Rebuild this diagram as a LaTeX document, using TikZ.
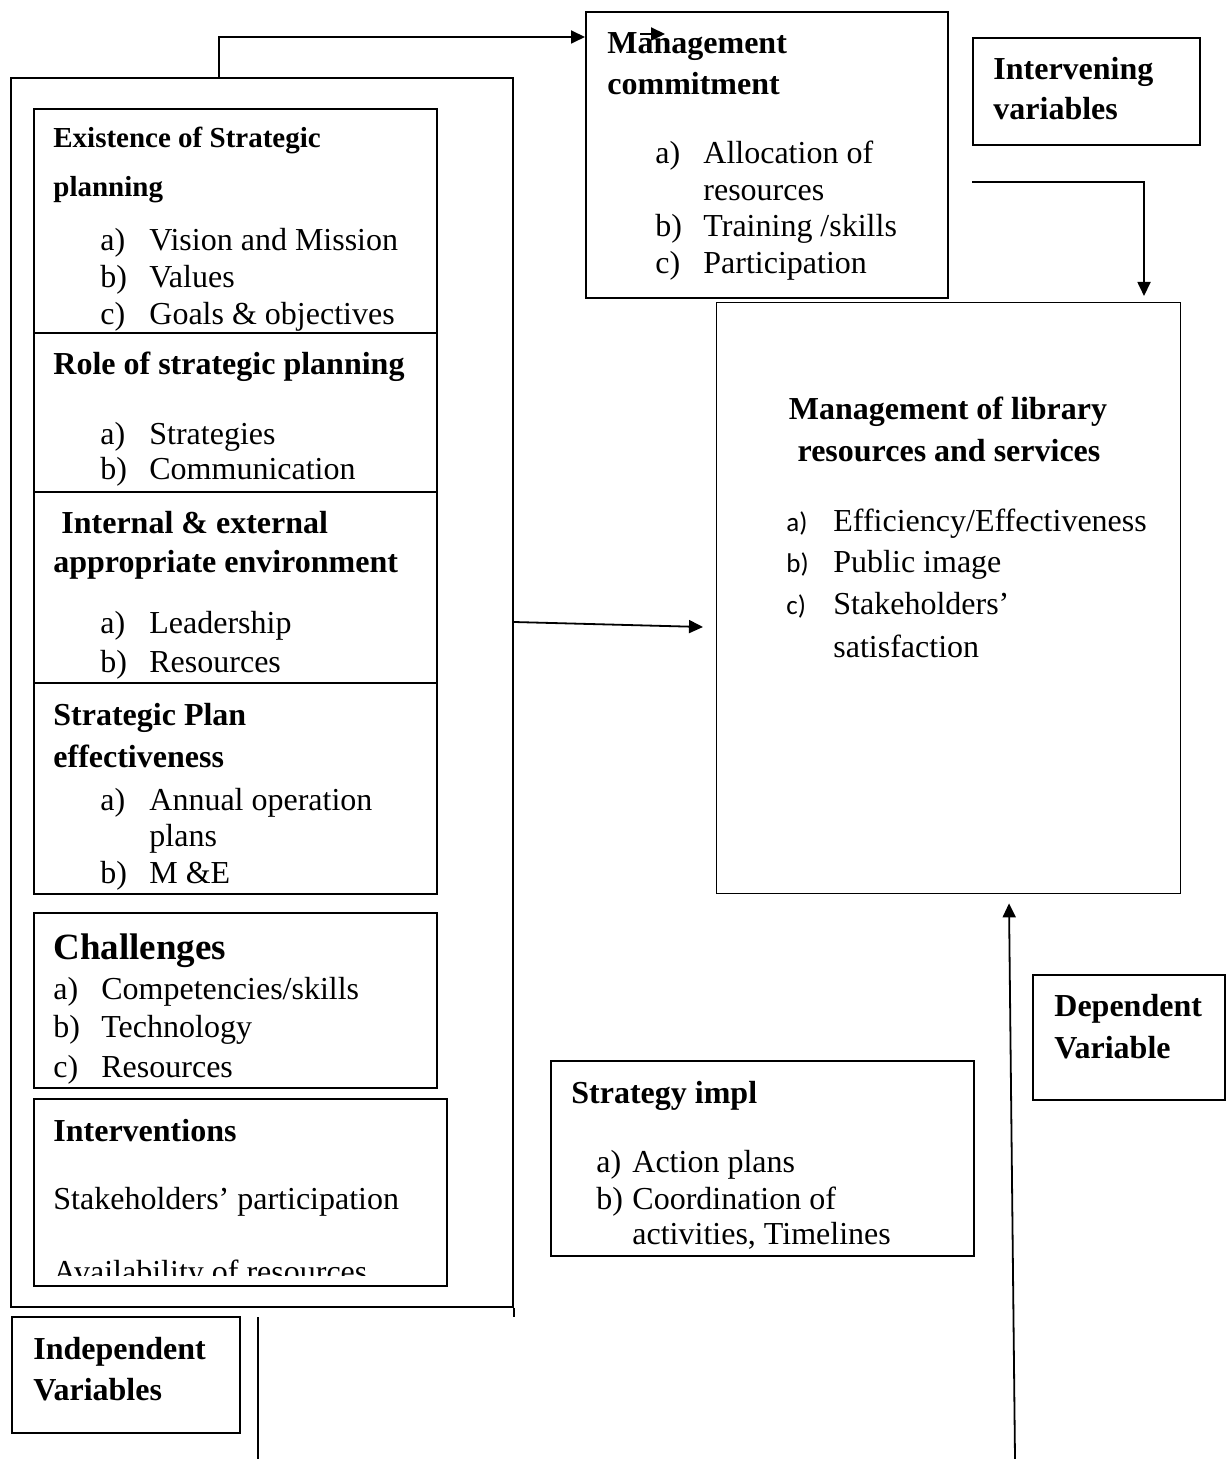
\documentclass[tikz,border=0pt]{standalone}
\usepackage{fontspec}
\setmainfont{Liberation Serif}
\newfontfamily\calfont{Carlito}
\usetikzlibrary{arrows.meta}

\newcommand\bodysize{\fontsize{16pt}{18pt}\selectfont}
\newcommand\smallhead{\fontsize{14.5pt}{17pt}\selectfont}
\newcommand\bighead{\fontsize{18.5pt}{21pt}\selectfont}

\tikzset{
  box/.style={draw, line width=0.9pt, inner sep=0pt, anchor=north west},
  txt/.style={inner sep=0pt, anchor=base west, font=\bodysize, yshift=-1pt},
  hd/.style={txt, font=\bodysize\bfseries},
  lbl/.style={inner sep=0pt, anchor=base west, yshift=-1pt, font=\calfont\fontsize{13.5pt}{16pt}\selectfont},
  arr/.style={line width=0.9pt, -{Triangle[length=7pt,width=6.5pt]}},
  plain/.style={line width=0.9pt},
}

\begin{document}
\begin{tikzpicture}[x=0.5pt, y=-0.5pt]
\useasboundingbox (0,0) rectangle (1229,1459);

% ---- boxes ----
\node[box, minimum width=251pt, minimum height=614.5pt] (outer) at (10,77) {};
\node[box, minimum width=201.5pt, minimum height=392.5pt] (sp) at (33,108) {};
\node[box, minimum width=201.5pt, minimum height=87.5pt] (ch) at (33,912) {};
\node[box, minimum width=206.5pt, minimum height=93.5pt] (inv) at (33,1098) {};
\node[box, minimum width=114pt, minimum height=58pt] (ivl) at (11,1316) {};
\node[box, minimum width=181pt, minimum height=143pt] (mc) at (585,11) {};
\node[box, minimum width=113.5pt, minimum height=53.5pt] (itv) at (972,37) {};
\node[box, line width=0.7pt, minimum width=232pt, minimum height=295.5pt] (dv) at (716,302) {};
\node[box, minimum width=96pt, minimum height=62.5pt] (dvl) at (1032,974) {};
\node[box, minimum width=211.5pt, minimum height=97.5pt] (si) at (550,1060) {};

% section dividers of the strategic planning column
\draw[line width=0.8pt] (33,333) -- (436,333);
\draw[line width=0.8pt] (33,492) -- (436,492);
\draw[line width=0.8pt] (33,683) -- (436,683);

% right side of the outer frame runs a little past its base
\draw[plain] (outer.south east) -- ++(0,9);

% ---- connectors ----
\draw[arr] ([xshift=104.5pt]outer.north west) |- ([yshift=-13pt]mc.north west);
\coordinate (s1) at (640,34);
\coordinate (s2) at (665,34);
\draw[arr] (s1) -- (s2);
\coordinate (c2) at (972,182);
\draw[arr, shorten >=3pt] (c2) -| ([xshift=214pt]dv.north west);
\draw[arr] ([yshift=-272.5pt]outer.north east) -- ([xshift=-6.5pt,yshift=-162.5pt]dv.north west);
\coordinate (c3) at (1015,1459);
\draw[arr] (c3) -- ([xshift=146.5pt,yshift=-4.5pt]dv.south west);
\coordinate (c4) at (258,1317);
\coordinate (c5) at (258,1459);
\draw[plain] (c4) -- (c5);

% ---- management commitment ----
\node[hd] (mc1) at (607,52) {Management};
\node[hd] (mc2) at (607,93) {commitment};
\node[txt] (mc3a) at (655,162) {a)};
\node[txt] (mc3) at (703,162) {Allocation of};
\node[txt] (mc4) at (703,199) {resources};
\node[txt] (mc5a) at (655,235) {b)};
\node[txt] (mc5) at (703,235) {Training /skills};
\node[txt] (mc6a) at (655,272) {c)};
\node[txt] (mc6) at (703,272) {Participation};

% ---- intervening variables ----
\node[hd] (itv1) at (993,78) {Intervening};
\node[hd] (itv2) at (993,118) {variables};

% ---- management of library resources ----
\node[hd, anchor=base] (dv1) at (948,418) {Management of library};
\node[hd, anchor=base] (dv2) at (949,460) {resources and services};
\node[lbl] (dv3a) at (786,529) {a)};
\node[txt] (dv3) at (833,529) {Efficiency/Effectiveness};
\node[lbl] (dv4a) at (786,570) {b)};
\node[txt] (dv4) at (833,570) {Public image};
\node[lbl] (dv5a) at (786,612) {c)};
\node[txt] (dv5) at (833,612) {Stakeholders'};
\node[txt] (dv6) at (833,655) {satisfaction};

% ---- strategic planning column ----
\node[hd, font=\smallhead\bfseries] (p1) at (53,146) {Existence of Strategic};
\node[hd, font=\smallhead\bfseries] (p2) at (53,195) {planning};
\node[txt] (p3a) at (100,249) {a)};
\node[txt] (p3) at (149,249) {Vision and Mission};
\node[txt] (p4a) at (100,286) {b)};
\node[txt] (p4) at (149,286) {Values};
\node[txt] (p5a) at (100,323) {c)};
\node[txt] (p5) at (149,323) {Goals \& objectives};

\node[hd] (r1) at (53,373) {Role of strategic planning};
\node[txt] (r2a) at (100,443) {a)};
\node[txt] (r2) at (149,443) {Strategies};
\node[txt] (r3a) at (100,478) {b)};
\node[txt] (r3) at (149,478) {Communication};

\node[hd] (e1) at (61,531) {Internal \& external};
\node[hd] (e2) at (53,570) {appropriate environment};
\node[txt] (e3a) at (100,631) {a)};
\node[txt] (e3) at (149,631) {Leadership};
\node[txt] (e4a) at (100,670) {b)};
\node[txt] (e4) at (149,670) {Resources};

\node[hd] (f1) at (53,723) {Strategic Plan};
\node[hd] (f2) at (53,765) {effectiveness};
\node[txt] (f3a) at (100,808) {a)};
\node[txt] (f3) at (149,808) {Annual operation};
\node[txt] (f4) at (149,844) {plans};
\node[txt] (f5a) at (100,881) {b)};
\node[txt] (f5) at (149,881) {M \&E};

% ---- challenges ----
\node[hd, font=\bighead\bfseries] (ch1) at (53,957) {Challenges};
\node[txt] (ch2a) at (53,997) {a)};
\node[txt] (ch2) at (101,997) {Competencies/skills};
\node[txt] (ch3a) at (53,1035) {b)};
\node[txt] (ch3) at (101,1035) {Technology};
\node[txt] (ch4a) at (53,1075) {c)};
\node[txt] (ch4) at (101,1075) {Resources};

% ---- interventions ----
\node[hd] (in1) at (53,1139) {Interventions};
\node[txt] (in2) at (53,1207) {Stakeholders' participation};
\begin{scope}
  \clip (35,1100) rectangle (445,1275);
  \node[txt] (in3) at (53,1280) {Availability of resources};
\end{scope}

% ---- independent / dependent labels ----
\node[hd] (ivl1) at (33,1357) {Independent};
\node[hd] (ivl2) at (33,1398) {Variables};
\node[hd] (dvl1) at (1054,1014) {Dependent};
\node[hd] (dvl2) at (1054,1056) {Variable};

% ---- strategy implementation ----
\node[hd] (si1) at (571,1101) {Strategy impl};
\node[txt] (si2a) at (596,1170) {a)};
\node[txt] (si2) at (632,1170) {Action plans};
\node[txt] (si3a) at (596,1207) {b)};
\node[txt] (si3) at (632,1207) {Coordination of};
\node[txt] (si4) at (632,1242) {activities, Timelines};
\end{tikzpicture}
\end{document}
